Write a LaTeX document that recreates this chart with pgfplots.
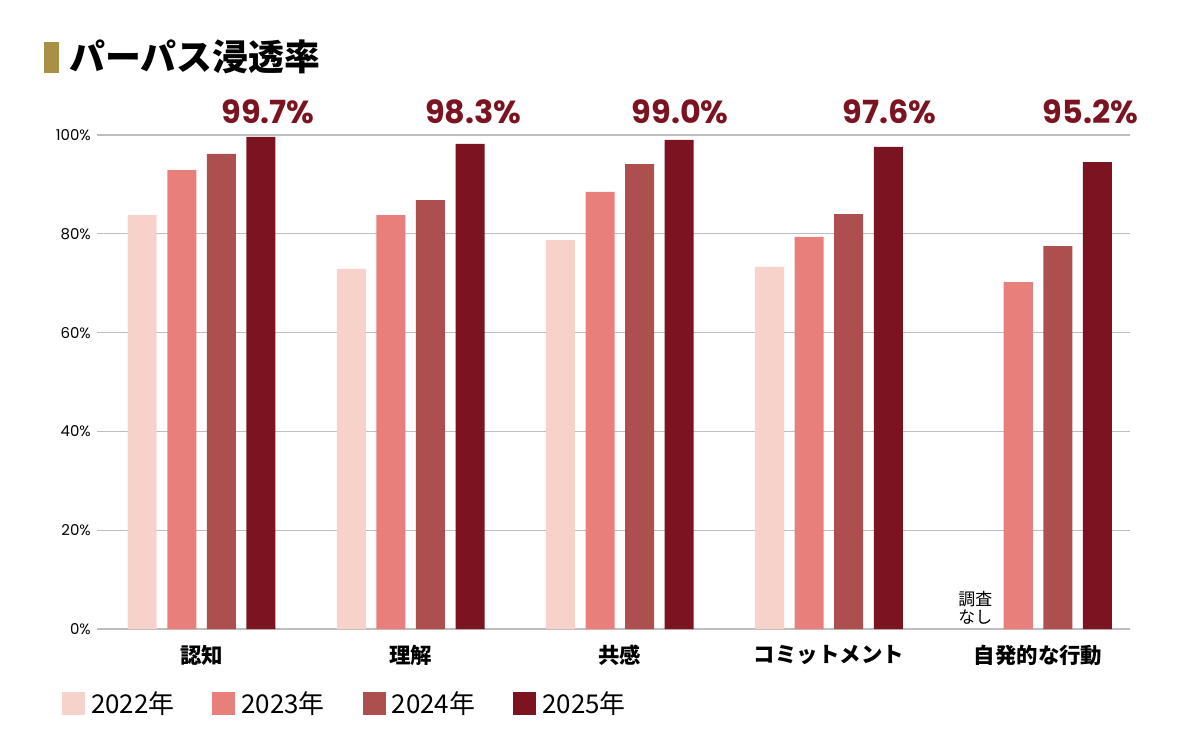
\documentclass[border=0pt]{standalone}
\usepackage{pgfplots}
\pgfplotsset{compat=1.18}
\usepackage{fontspec}
\setmainfont{Noto Sans CJK JP}
\newfontfamily\pop{Poppins}
\definecolor{cA}{HTML}{F6D2CB}
\definecolor{cB}{HTML}{E97F7A}
\definecolor{cC}{HTML}{AD4F4F}
\definecolor{cD}{HTML}{7B1420}
\definecolor{gold}{HTML}{A89045}
\definecolor{gridc}{HTML}{BDBDBD}
\begin{document}
\begin{tikzpicture}
\path[use as bounding box] (0,0) rectangle (1201bp,755bp);
\fill[gold] (44bp,682bp) rectangle (59bp,713bp);
\node[anchor=west,inner sep=0,font=\fontsize{36}{36}\selectfont\bfseries] at (69bp,698bp) {パーパス浸透率};
\begin{axis}[
  at={(97bp,126bp)}, anchor=south west,
  scale only axis, width=1033bp, height=494bp,
  xmin=-0.5, xmax=4.44, ymin=0, ymax=100,
  clip=false,
  axis line style={draw=none},
  major tick length=0,
  ymajorgrids, grid style={gridc, line width=1.1bp},
  ytick={0,20,40,60,80,100},
  /pgf/number format/assume math mode=true,
  yticklabel={\pgfmathprintnumber{\tick}\%},
  yticklabel style={font=\pop\fontsize{15}{15}\selectfont, inner sep=0, xshift=-6bp},
  xtick={0,1,2,3,4},
  xticklabels={認知,理解,共感,コミットメント,自発的な行動},
  xticklabel style={font=\fontsize{21.5}{21.5}\selectfont\bfseries, anchor=center, inner sep=0, yshift=-26bp},
  bar width=0.139,
  legend style={draw=none, at={(-0.034,-0.15)}, anchor=west, inner sep=0,
    legend columns=-1, font=\fontsize{26}{26}\selectfont,
    /tikz/every odd column/.append style={column sep=4bp},
    /tikz/every even column/.append style={column sep=36bp}},
  legend image code/.code={\fill[#1] (0bp,-11.5bp) rectangle (23bp,11.5bp);},
]
\addplot[ybar, fill=cA, draw=none, bar shift=-0.284] coordinates {(0,83.8) (1,72.9) (2,78.7) (3,73.3)};
\addplot[ybar, fill=cB, draw=none, bar shift=-0.0945] coordinates {(0,92.9) (1,83.8) (2,88.5) (3,79.4) (4,70.2)};
\addplot[ybar, fill=cC, draw=none, bar shift=0.0945] coordinates {(0,96.2) (1,86.8) (2,94.1) (3,84.0) (4,77.5)};
\addplot[ybar, fill=cD, draw=none, bar shift=0.284] coordinates {(0,99.6) (1,98.2) (2,99.0) (3,97.6) (4,94.5)};
\legend{2022年,2023年,2024年,2025年}
\foreach \x/\t in {0.318/99.7,1.299/98.3,2.289/99.0,3.289/97.6,4.251/95.2}{
  \edef\tmp{\noexpand\node[anchor=base, inner sep=0, text=cD, font=\noexpand\pop\noexpand\fontsize{32}{32}\noexpand\selectfont\noexpand\bfseries] at (axis cs:\x,102.4) {\t\noexpand\%};}
  \tmp
}
\node[anchor=south, align=center, inner sep=0, font=\fontsize{17}{19}\selectfont] at (axis cs:3.70,0.8) {調査\\なし};
\end{axis}
\end{tikzpicture}
\end{document}
